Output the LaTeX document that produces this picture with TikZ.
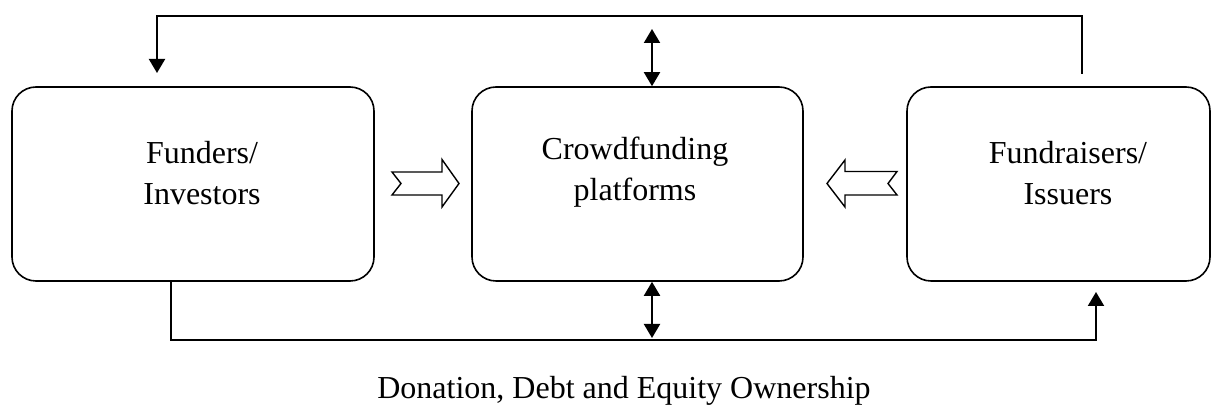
\documentclass[tikz,border=0pt]{standalone}
\usepackage{fontspec}
\setmainfont{Liberation Serif}
\usetikzlibrary{arrows.meta}

\tikzset{
  party/.style={draw, line width=0.8pt, rounded corners=12pt, minimum height=97pt},
  txt/.style={align=center, font=\fontsize{16}{20.5}\selectfont},
  link/.style={line width=1pt},
  tip/.style={-{Triangle[length=7pt,width=8pt]}},
  twotip/.style={{Triangle[length=7pt,width=8pt]}-{Triangle[length=7pt,width=8pt]}},
  flow/.style={draw, line width=0.7pt, line join=miter}
}

\begin{document}
\begin{tikzpicture}[x=0.5pt,y=-0.5pt]
      \useasboundingbox (0,0) rectangle (1211,405);

      % the three parties
      \node[party, minimum width=181pt] (fun) at (193,184) {};
      \node[party, minimum width=165.5pt] (plat) at (637.5,184) {};
      \node[party, minimum width=151.5pt] (raise) at (1058.5,184) {};

      \node[txt] (funtxt) at (202,172.6) {Funders/\\Investors};
      \node[txt] (plattxt) at (635,172.1) {Crowdfunding\\platforms};
      \node[txt] (raisetxt) at (1068,172.6) {Fundraisers/\\Issuers};

      % free ends of the connectors
      \coordinate (topR) at (1082,74);
      \coordinate (topL) at (157,73);
      \coordinate (botR) at (1096,292);
      \coordinate (platT) at (652,29);
      \coordinate (platB) at (652,338);

      \draw[link, tip] (topR) -- ++(0,-58.3) -| (topL);
      \draw[link, tip] ([xshift=-11pt]fun.south) -- ++(0,58) -| (botR);

      \draw[link, twotip] (platT) -- ([xshift=7.25pt]plat.north);
      \draw[link, twotip] ([xshift=7.25pt]plat.south) -- (platB);

      % block arrows
      \draw[flow] (392,172) -- (442,172) -- (442,159.5) -- (459,183.5) -- (442,207)
        -- (442,195) -- (392,195) -- (401,183.5) -- cycle;
      \draw[flow] (897,171.5) -- (845,171.5) -- (845,160) -- (827,183.5) -- (845,207)
        -- (845,195) -- (897,195) -- (888,183.5) -- cycle;

      \node[txt, anchor=base] (caption) at (624,399) {Donation, Debt and Equity Ownership};
\end{tikzpicture}
\end{document}
